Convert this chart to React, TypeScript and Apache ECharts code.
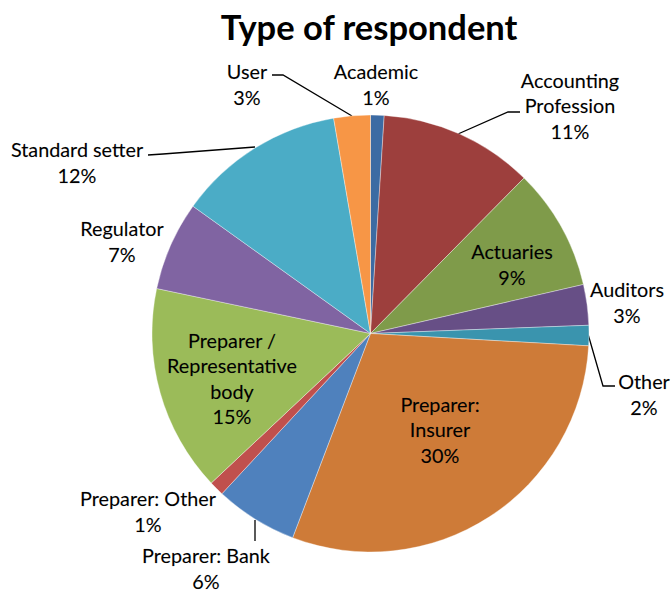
import React, { useEffect, useRef } from "react";
import * as echarts from "echarts";

const categories = [
  "Academic",
  "Accounting Profession",
  "Actuaries",
  "Auditors",
  "Other",
  "Preparer: Insurer",
  "Preparer: Bank",
  "Preparer: Other",
  "Preparer / Representative body",
  "Regulator",
  "Standard setter",
  "User",
];
const labelTexts = [
  "Academic",
  "Accounting\nProfession",
  "Actuaries",
  "Auditors",
  "Other",
  "Preparer:\nInsurer",
  "Preparer: Bank",
  "Preparer: Other",
  "Preparer /\nRepresentative\nbody",
  "Regulator",
  "Standard setter",
  "User",
];
const shares = [1.0, 11.4, 9.0, 3.0, 1.5, 29.9, 6.1, 1.1, 15.3, 6.6, 12.4, 2.7];
const colors = [
  "#3C6BA3",
  "#9D3F3D",
  "#7F9B4A",
  "#674F86",
  "#3A94AE",
  "#CE7B38",
  "#4F81BD",
  "#C0504D",
  "#9BBB59",
  "#8064A2",
  "#4BACC6",
  "#F79646",
];
const chartTitle = "Type of respondent";

// label placement (layout only)
const labelPos: [number, number][] = [
  [376, 84],
  [570, 105],
  [512, 264],
  [627, 302],
  [644, 394],
  [440, 429],
  [206, 568],
  [148, 511],
  [232, 378],
  [122, 241],
  [77, 162],
  [247, 84],
];
const leaderLines: Record<number, number[][]> = {
  1: [[458, 134], [508, 112], [520, 112]],
  4: [[588, 334], [603, 386], [615, 386]],
  6: [[255, 520], [255, 530], [255, 541]],
  10: [[255, 147], [163, 154], [148, 155]],
  11: [[352, 116], [283, 75], [272, 75]],
};

const FONT = 'Lato, "Noto Sans", sans-serif';

export default function App() {
  const ref = useRef<HTMLDivElement>(null);
  useEffect(() => {
    if (!ref.current) return;
    const chart = echarts.init(ref.current, null, { renderer: "svg" });
    const data = categories.map((name, i) => ({
      name,
      value: shares[i],
      itemStyle: { color: colors[i] },
      labelLine: { show: leaderLines[i] !== undefined },
    }));
    chart.setOption({
      animation: false,
      backgroundColor: "#ffffff",
      graphic: [
        {
          type: "text",
          x: 369,
          y: 26,
          style: {
            text: chartTitle,
            textAlign: "center",
            textVerticalAlign: "middle",
            fontFamily: FONT,
            fontWeight: "bold",
            fontSize: 34.5,
            fill: "#000000",
          },
        },
      ],
      series: [
        {
          type: "pie",
          center: [370.5, 333.5],
          radius: 218.5,
          startAngle: 90,
          clockwise: true,
          avoidLabelOverlap: false,
          itemStyle: { borderColor: "rgba(255,255,255,0.6)", borderWidth: 0.6 },
          label: {
            show: true,
            position: "outside",
            fontFamily: FONT,
            fontSize: 19.8,
            lineHeight: 25.5,
            color: "#000000",
            textBorderColor: "rgba(0,0,0,0.35)",
            textBorderWidth: 0.3,
            align: "center",
            formatter: (p: any) =>
              labelTexts[p.dataIndex] + "\n" + Math.round(p.percent) + "%",
          },
          labelLine: {
            show: true,
            lineStyle: { color: "#000000", width: 1.3 },
          },
          labelLayout: (params: any) => {
            const i = params.dataIndex;
            const out: any = {
              x: labelPos[i][0],
              y: labelPos[i][1],
              align: "center",
              verticalAlign: "middle",
            };
            if (leaderLines[i]) out.labelLinePoints = leaderLines[i];
            return out;
          },
          emphasis: { disabled: true },
          data,
        },
      ],
    });
    return () => chart.dispose();
  }, []);
  return (
    <div
      ref={ref}
      style={{ position: "fixed", left: 0, top: 0, width: 671, height: 594 }}
    />
  );
}
